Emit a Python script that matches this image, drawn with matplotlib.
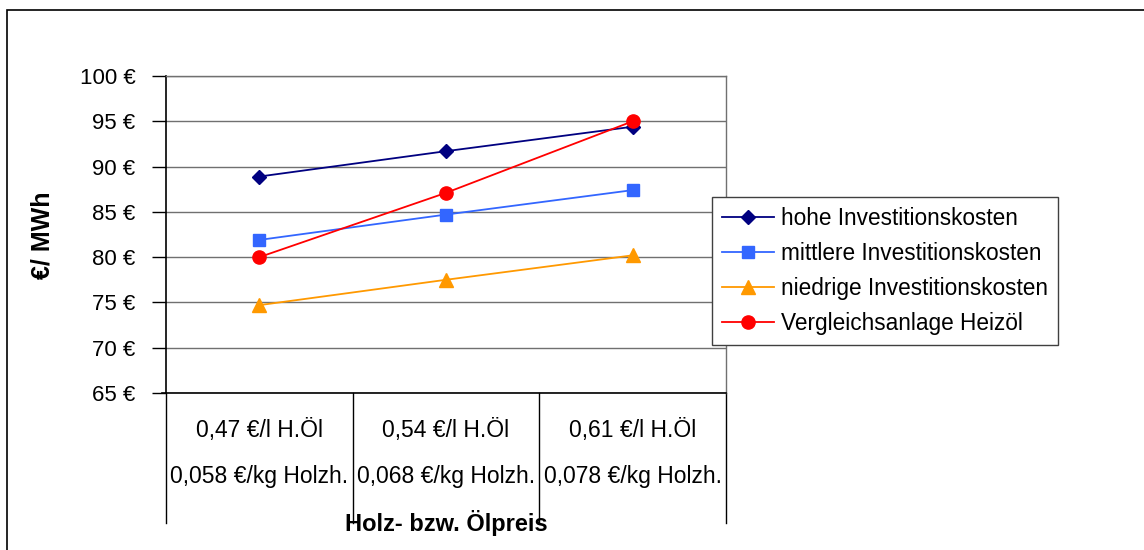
import matplotlib
matplotlib.use("Agg")
import matplotlib.pyplot as plt
from matplotlib.patches import Rectangle
import matplotlib.transforms as mtransforms

plt.rcParams['font.family'] = ['Liberation Sans', 'DejaVu Sans']

categories_oil = ["0,47 €/l H.Öl", "0,54 €/l H.Öl", "0,61 €/l H.Öl"]
categories_wood = ["0,058 €/kg Holzh.", "0,068 €/kg Holzh.", "0,078 €/kg Holzh."]
series_names = ["hohe Investitionskosten", "mittlere Investitionskosten",
                "niedrige Investitionskosten", "Vergleichsanlage Heizöl"]
hohe = [88.9, 91.7, 94.4]
mittlere = [81.9, 84.7, 87.4]
niedrige = [74.7, 77.5, 80.2]
heizoel = [80.0, 87.1, 95.0]
yticks = [65, 70, 75, 80, 85, 90, 95, 100]

W, H = 1144, 550
fig = plt.figure(figsize=(W / 100, H / 100), dpi=100)
fig.patches.append(Rectangle((7 / W, -0.1), 1.2, 1 - 10 / H + 0.1,
                             transform=fig.transFigure, fill=False,
                             edgecolor='black', linewidth=1.2))

ax = fig.add_axes([166 / W, 1 - 393 / H, 560 / W, 317 / H])
x = list(range(len(categories_oil)))
styles = [
    (hohe, '#000080', 'D', 7.5),
    (mittlere, '#3366FF', 's', 8.5),
    (niedrige, '#FF9900', '^', 9.5),
    (heizoel, '#FF0000', 'o', 9.5),
]
for (vals, col, mk, ms), name in zip(styles, series_names):
    ax.plot(x, vals, color=col, marker=mk, markersize=ms, linewidth=1.3,
            label=name, clip_on=False, zorder=3)

ax.set_xlim(-0.5, 2.5)
ax.set_ylim(65, 100)
ax.set_yticks(yticks)
ax.set_yticklabels([f"{v} €" for v in yticks], fontsize=16)
ax.yaxis.grid(True, color='#707070', linewidth=1)
ax.set_axisbelow(True)
ax.tick_params(axis='y', length=10, width=1, pad=12, direction='out')
ax.set_xticks([])
for s in ['left', 'bottom']:
    ax.spines[s].set_color('black')
    ax.spines[s].set_linewidth(1.2)
for s in ['top', 'right']:
    ax.spines[s].set_color('#707070')
    ax.spines[s].set_linewidth(1)

trans = mtransforms.blended_transform_factory(ax.transData, ax.transAxes)
for xb in [-0.5, 0.5, 1.5, 2.5]:
    ax.plot([xb, xb], [0, -0.41], transform=trans, color='black',
            linewidth=1, clip_on=False)
ax.plot([-0.52, -0.5], [0, 0], transform=trans, color='black', linewidth=1.2, clip_on=False)
for i in x:
    ax.text(i, -0.117, categories_oil[i], transform=trans, ha='center',
            va='center', fontsize=16.5)
    ax.text(i, -0.262, categories_wood[i], transform=trans, ha='center',
            va='center', fontsize=16.5)
ax.text(1, -0.41, "Holz- bzw. Ölpreis", transform=trans, ha='center',
        va='center', fontsize=17, fontweight='bold')

fig.text(43 / W, 1 - 235 / H, "€/ MWh", rotation=90, ha='center', va='center',
         fontsize=18, fontweight='bold')

leg = fig.legend(loc='upper left', bbox_to_anchor=(712 / W, 1 - 197 / H),
                 fontsize=16.3, frameon=True, fancybox=False, framealpha=1,
                 edgecolor='#404040', handlelength=2.3, borderpad=0.45,
                 labelspacing=0.52, handletextpad=0.3, borderaxespad=0)
leg.get_frame().set_linewidth(1)

fig.savefig("out.png", dpi=100)
